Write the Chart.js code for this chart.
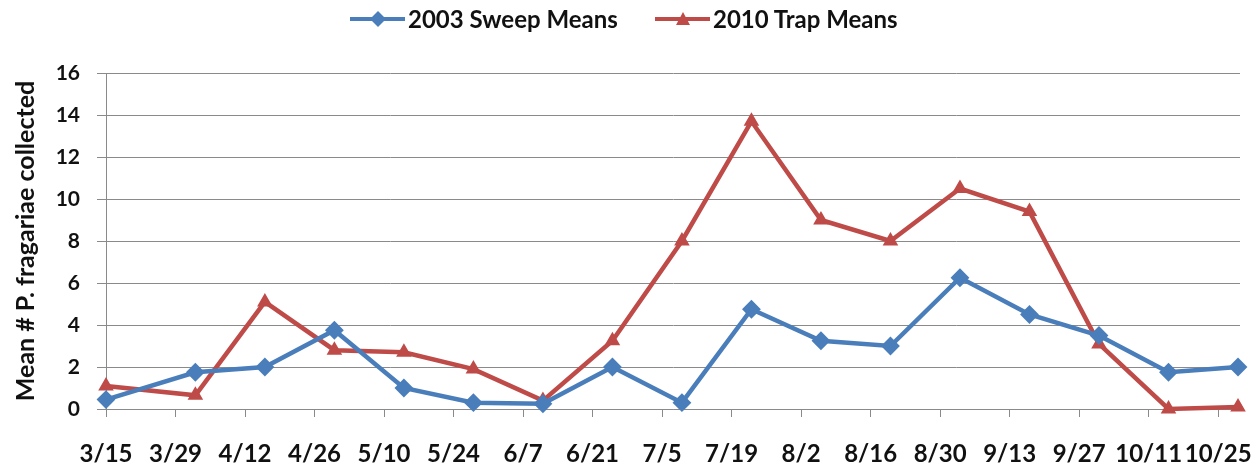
<!DOCTYPE html>
<html lang="en">
<head>
<meta charset="UTF-8" />
<title>P. fragariae means</title>
<script src="https://cdn.jsdelivr.net/npm/chart.js"></script>
<style>
  body { margin: 0; background: #fff; font-family: Lato, sans-serif; }
  #wrap { position: relative; width: 1260px; height: 468px; }
  .item {
    position: absolute; top: 4px; display: flex; align-items: center;
    font-weight: bold; font-size: 24px; color: #111; white-space: nowrap;
  }
  .item svg { margin-right: 3px; }
</style>
</head>
<body>
<div id="wrap">
  <canvas id="chart" width="1260" height="468"></canvas>
  <div id="legend"></div>
</div>
<script>
  // sampling dates (month/day) and the two series
  const sampleDates = ['3/15', '4/2', '4/16', '4/30', '5/14', '5/28', '6/11', '6/25', '7/9',
    '7/23', '8/6', '8/20', '9/3', '9/17', '10/1', '10/15', '10/29'];
  const sweep2003 = [0.45, 1.75, 2.0, 3.75, 1.0, 0.3, 0.25, 2.0, 0.3, 4.75, 3.25, 3.0, 6.25, 4.5, 3.5, 1.75, 2.0];
  const trap2010 = [1.1, 0.65, 5.1, 2.8, 2.7, 1.9, 0.4, 3.25, 8.0, 13.7, 9.0, 8.0, 10.5, 9.4, 3.1, 0.0, 0.1];

  // x axis labels, every two weeks
  const tickDates = ['3/15', '3/29', '4/12', '4/26', '5/10', '5/24', '6/7', '6/21', '7/5',
    '7/19', '8/2', '8/16', '8/30', '9/13', '9/27', '10/11', '10/25'];

  const seriesNames = ['2003 Sweep Means', '2010 Trap Means'];
  const BLUE = '#4a7ebb';
  const RED = '#be4b48';

  // days since 3/15
  function dayOf(md) {
    const [m, d] = md.split('/').map(Number);
    return (Date.UTC(2010, m - 1, d) - Date.UTC(2010, 2, 15)) / 86400000;
  }
  const tickDays = tickDates.map(dayOf);

  const toPoints = vals => sampleDates.map((d, i) => ({ x: dayOf(d), y: vals[i] }));

  // legend built as html (line with marker in the middle)
  const legend = document.getElementById('legend');
  const markers = [
    `<polygon points="20,8 28,0 36,8 28,16" fill="${BLUE}"/>`,
    `<polygon points="28,1 35,14 21,14" fill="${RED}"/>`
  ];
  const legendLeft = [350, 655];
  [BLUE, RED].forEach((c, i) => {
    const el = document.createElement('div');
    el.className = 'item';
    el.style.left = legendLeft[i] + 'px';
    el.innerHTML = `<svg width="55" height="16"><line x1="0" y1="8" x2="55" y2="8" stroke="${c}" stroke-width="4"/>${markers[i]}</svg><span>${seriesNames[i]}</span>`;
    legend.appendChild(el);
  });

  const gridGray = '#8a8a8a';

  new Chart(document.getElementById('chart').getContext('2d'), {
    type: 'line',
    data: {
      datasets: [{
        label: seriesNames[0],
        data: toPoints(sweep2003),
        borderColor: BLUE,
        backgroundColor: BLUE,
        borderWidth: 4.5,
        pointStyle: 'rectRot',
        pointRadius: 8,
        pointBorderWidth: 2,
        tension: 0,
        clip: false
      }, {
        label: seriesNames[1],
        data: toPoints(trap2010),
        borderColor: RED,
        backgroundColor: RED,
        borderWidth: 4.5,
        pointStyle: 'triangle',
        pointRadius: 7,
        pointBorderWidth: 2,
        tension: 0,
        clip: false
      }]
    },
    options: {
      responsive: false,
      animation: false,
      devicePixelRatio: 1,
      layout: { padding: { top: 73, right: 20, left: 0, bottom: 0 } },
      plugins: {
        legend: { display: false },
        tooltip: { enabled: false }
      },
      scales: {
        x: {
          type: 'linear',
          min: 0,
          max: 228.4,
          afterBuildTicks: s => { s.ticks = tickDays.map(v => ({ value: v })); },
          // keep the plot width fixed; the last label may run into the margin
          afterFit: s => { s.height = 59; s.paddingLeft = 0; s.paddingRight = 0; },
          grid: { drawOnChartArea: false, drawTicks: true, tickLength: 8, color: gridGray },
          border: { color: gridGray },
          ticks: {
            autoSkip: false,
            maxRotation: 0,
            padding: 23,
            color: '#111',
            font: { family: 'Lato', weight: 'bold', size: 24 },
            callback: v => tickDates[tickDays.indexOf(v)]
          }
        },
        y: {
          min: 0,
          max: 16,
          afterFit: s => { s.width = 106; },
          grid: { color: gridGray, tickLength: 9 },
          border: { color: gridGray },
          ticks: {
            stepSize: 2, padding: 17, color: '#111',
            font: { family: 'Lato', weight: 'bold', size: 21 }
          },
          title: {
            display: true,
            text: 'Mean # P. fragariae collected',
            color: '#111',
            font: { family: 'Lato', weight: 'bold', size: 25 },
            padding: { top: 11, bottom: 0 }
          }
        }
      }
    }
  });
</script>
</body>
</html>
